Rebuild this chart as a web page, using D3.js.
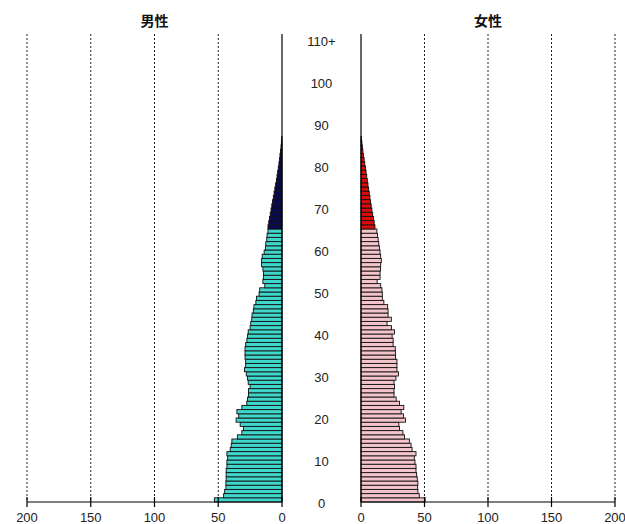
<!DOCTYPE html>
<html><head><meta charset="utf-8">
<script src="https://cdn.jsdelivr.net/npm/d3@7"></script>
<style>body{margin:0;background:#fff}svg{display:block}</style>
</head><body>
<script>
const titles = ["男性", "女性"];
const ageTicks = [0,10,20,30,40,50,60,70,80,90,100,110];
const ageTickLabels = ["0","10","20","30","40","50","60","70","80","90","100","110+"];
const valueTicks = [0,50,100,150,200];
const elderAge = 65;
const male = [53,45.8,45,44,44,43.8,43.8,43.8,43.2,43.2,42.6,43.2,40.6,39.8,39.3,35,31.5,30.2,32.8,36,
  34,35.4,31.5,27.6,27,26.3,26.3,25,26.5,27,28,29.4,28.5,28.5,29,29,29,28.5,27.5,27,
  26.5,25,24.5,23.7,23.5,22.5,22,20.5,20,18,17.5,13.5,15,14.6,14.6,15,16,16,15.5,14,
  13,12.7,12,11.7,11,11,10.4,9.8,9.2,8.6,8,7.4,6.8,6.2,5.6,5,4.4,3.9,3.4,2.9,
  2.4,2,1.6,1.2,0.8,0.5,0.3];
const female = [50.5,45.9,44.8,44.6,44.8,44.3,43.8,43.3,43.3,42.5,42,43.3,40.2,39.4,38.1,34.2,33,30.3,29.8,35,
  33.4,31.6,33.7,30.3,27.7,26,26,26.4,26,27.5,29.5,28.3,28.3,28.3,27.2,27.2,27,25.3,25.3,24.5,
  26.4,24,20.5,23.9,21.3,21.3,21,18,16.8,16.8,16.5,15.5,12.7,15,15,15.3,15.5,16,15.5,15,
  14.5,14,13.5,13,12.5,11,10.4,9.8,9.2,8.6,8,7.5,7,6.5,6,5.5,5,4.5,4,3.5,
  3,2.5,2,1.5,1.1,0.7,0.4];

const W = 625, H = 524;
const svg = d3.select("body").append("svg").attr("width", W).attr("height", H);
const font = "'Liberation Sans', Arial, sans-serif";

const y = d3.scaleLinear().domain([0,110]).range([502, 40]);
const xL = d3.scaleLinear().domain([0,200]).range([282, 27]);
const xR = d3.scaleLinear().domain([0,200]).range([361, 615]);
const topY = 34, baseY = y(0);

// gridlines
[xL, xR].forEach((sc) => {
  svg.append("g").selectAll("line").data(valueTicks.filter(v => v > 0)).join("line")
    .attr("x1", d => sc(d)).attr("x2", d => sc(d))
    .attr("y1", topY).attr("y2", baseY)
    .attr("stroke", "#222").attr("stroke-width", 1).attr("stroke-dasharray", "2,2");
});

function bars(data, sc, isLeft, young, old) {
  svg.append("g").selectAll("rect").data(data).join("rect")
    .attr("x", (d) => isLeft ? sc(d) : sc(0))
    .attr("width", (d) => Math.abs(sc(d) - sc(0)))
    .attr("y", (d, i) => y(i + 1))
    .attr("height", (d, i) => y(i) - y(i + 1))
    .attr("fill", (d, i) => i >= elderAge ? old : young)
    .attr("stroke", "#111").attr("stroke-width", 0.9);
}
bars(male, xL, true, "#3fd6cc", "#0a0a50");
bars(female, xR, false, "#f4c4cb", "#dd0a0a");

// central solid lines
[xL(0), xR(0)].forEach(x => {
  svg.append("line").attr("x1", x).attr("x2", x).attr("y1", topY).attr("y2", baseY)
    .attr("stroke", "#000").attr("stroke-width", 1.2);
});

// bottom axes
function axis(sc) {
  const g = svg.append("g").attr("transform", `translate(0,${baseY})`);
  g.append("line").attr("x1", sc.range()[0]).attr("x2", sc.range()[1])
    .attr("stroke", "#000").attr("stroke-width", 1.2);
  g.selectAll("line.t").data(valueTicks).join("line").attr("class", "t")
    .attr("x1", d => sc(d)).attr("x2", d => sc(d)).attr("y1", -5).attr("y2", 5)
    .attr("stroke", "#000").attr("stroke-width", 1.2);
  g.selectAll("text").data(valueTicks).join("text")
    .attr("x", d => sc(d)).attr("y", 15).attr("dy", "0.35em")
    .attr("text-anchor", "middle").attr("font-family", font).attr("font-size", 13)
    .attr("fill", "#222").text(d => d);
}
axis(xL); axis(xR);

// age labels
svg.append("g").selectAll("text").data(ageTicks).join("text")
  .attr("x", (xL(0) + xR(0)) / 2).attr("y", d => y(d) + 1.5).attr("dy", "0.35em")
  .attr("text-anchor", "middle").attr("font-family", font).attr("font-size", 13)
  .attr("fill", "#222").text((d, i) => ageTickLabels[i]);

// titles
svg.selectAll("text.title").data(titles).join("text").attr("class", "title")
  .attr("x", (d, i) => i === 0 ? xL(100) : xR(100)).attr("y", 26)
  .attr("text-anchor", "middle").attr("font-family", "'Noto Sans CJK JP', sans-serif")
  .attr("font-size", 14).attr("font-weight", "bold").attr("fill", "#111").text(d => d);
</script>
</body></html>
